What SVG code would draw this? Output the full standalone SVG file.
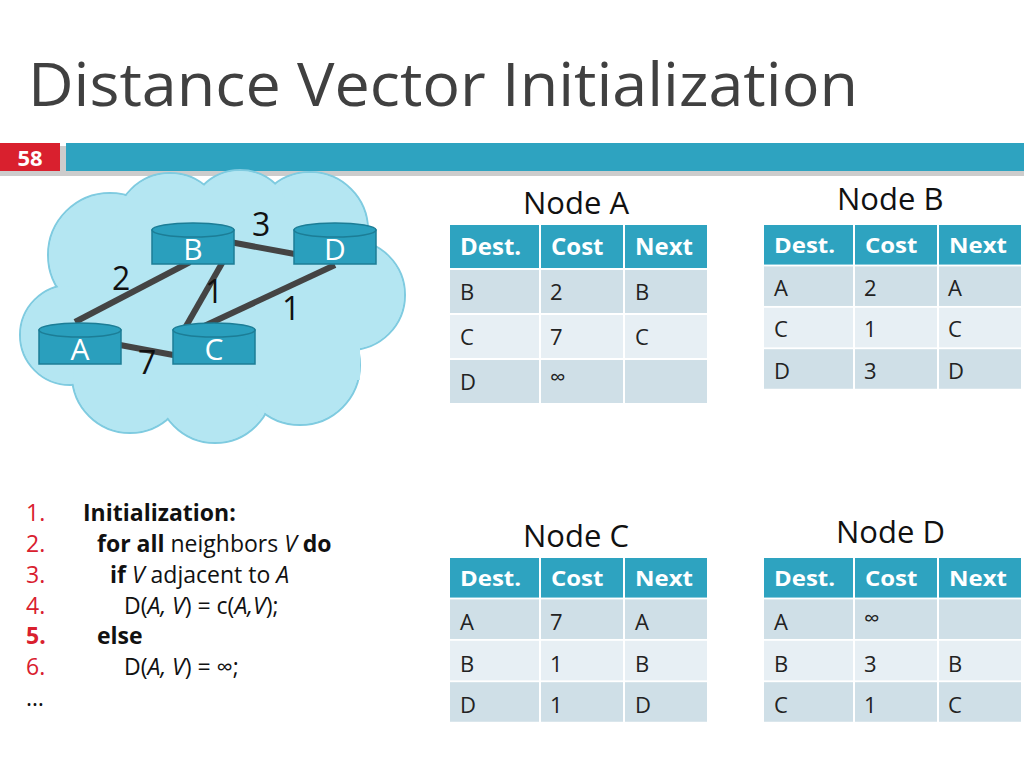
<svg xmlns="http://www.w3.org/2000/svg" width="1024" height="768" viewBox="0 0 1024 768">
<style>
text{font-family:"Open Sans","Noto Sans","DejaVu Sans",sans-serif}
.h{fill:#2ea3c0}.r1{fill:#cfdfe7}.r2{fill:#e7eff4}
.ht{fill:#fff;font-weight:bold;font-size:24px}
.ct{fill:#222;font-size:22px}
.tt{font-size:31px;fill:#111}
.rt{fill:#fff;font-size:30px;text-anchor:middle}
.el{font-size:32px;fill:#111}
.cd{font-size:23px;fill:#111}
.n{fill:#d9202e}
.cyl{fill:#2a9fbd;stroke:#1c7d96;stroke-width:1.5}
</style>
<defs>
<g id="tbl">
<rect x="0" y="0" width="89" height="43" class="h"/><rect x="91" y="0" width="82" height="43" class="h"/><rect x="175" y="0" width="82" height="43" class="h"/>
<rect x="0" y="45" width="89" height="43" class="r1"/><rect x="91" y="45" width="82" height="43" class="r1"/><rect x="175" y="45" width="82" height="43" class="r1"/>
<rect x="0" y="90" width="89" height="43" class="r2"/><rect x="91" y="90" width="82" height="43" class="r2"/><rect x="175" y="90" width="82" height="43" class="r2"/>
<rect x="0" y="135" width="89" height="43" class="r1"/><rect x="91" y="135" width="82" height="43" class="r1"/><rect x="175" y="135" width="82" height="43" class="r1"/>
<text class="ht" x="10" y="30">Dest.</text><text class="ht" x="101" y="30">Cost</text><text class="ht" x="185" y="30">Next</text>
</g>
</defs>
<rect width="1024" height="768" fill="#fff"/>
<text x="28" y="106" font-size="60" fill="#404040" textLength="830" lengthAdjust="spacingAndGlyphs">Distance Vector Initialization</text>
<rect x="0" y="146" width="1024" height="30" fill="#999" opacity="0.5"/>
<rect x="0" y="143" width="60" height="28" fill="#d9202e"/>
<rect x="66" y="143" width="958" height="28" fill="#2ea3c0"/>
<text x="30" y="166" font-size="22" font-weight="bold" fill="#fff" text-anchor="middle">58</text>

<g id="cloud" fill="#b4e6f2" stroke="#7fcbe0" stroke-width="2">
<circle cx="110" cy="255" r="62"/><circle cx="70" cy="335" r="50"/><circle cx="130" cy="375" r="58"/>
<circle cx="215" cy="385" r="58"/><circle cx="300" cy="365" r="60"/><circle cx="350" cy="295" r="55"/>
<circle cx="310" cy="230" r="58"/><circle cx="240" cy="222" r="52"/><circle cx="170" cy="228" r="55"/>
<g stroke="none"><circle cx="110" cy="255" r="61"/><circle cx="70" cy="335" r="49"/><circle cx="130" cy="375" r="57"/>
<circle cx="215" cy="385" r="57"/><circle cx="300" cy="365" r="59"/><circle cx="350" cy="295" r="54"/>
<circle cx="310" cy="230" r="57"/><circle cx="240" cy="222" r="51"/><circle cx="170" cy="228" r="54"/>
<rect x="90" y="230" width="270" height="150"/></g>
</g>
<g id="connectors" stroke="#444" stroke-width="6">
<line x1="75" y1="322" x2="190" y2="262"/>
<line x1="120" y1="345" x2="200" y2="360"/>
<line x1="225" y1="258" x2="185" y2="328"/>
<line x1="230" y1="242" x2="300" y2="255"/>
<line x1="200" y1="328" x2="335" y2="265"/>
</g>
<g id="labels" class="el">
<text x="252" y="236">3</text><text x="112" y="290">2</text><text x="205" y="303">1</text><text x="282" y="320">1</text><text x="138" y="374">7</text>
</g>
<g id="B"><rect x="152" y="230" width="82" height="34" class="cyl"/><ellipse cx="193" cy="230" rx="41" ry="7" class="cyl"/><text class="rt" x="193" y="260">B</text></g>
<g id="D"><rect x="294" y="230" width="82" height="34" class="cyl"/><ellipse cx="335" cy="230" rx="41" ry="7" class="cyl"/><text class="rt" x="335" y="260">D</text></g>
<g id="A"><rect x="39" y="330" width="82" height="34" class="cyl"/><ellipse cx="80" cy="330" rx="41" ry="7" class="cyl"/><text class="rt" x="80" y="360">A</text></g>
<g id="C"><rect x="173" y="330" width="82" height="34" class="cyl"/><ellipse cx="214" cy="330" rx="41" ry="7" class="cyl"/><text class="rt" x="214" y="360">C</text></g>

<g id="tableA"><text class="tt" x="523" y="214">Node A</text><use href="#tbl" x="450" y="225"/>
<text class="ct" x="460" y="300">B</text><text class="ct" x="550" y="300">2</text><text class="ct" x="635" y="300">B</text>
<text class="ct" x="460" y="345">C</text><text class="ct" x="550" y="345">7</text><text class="ct" x="635" y="345">C</text>
<text class="ct" x="460" y="390">D</text><text class="ct" x="550" y="385">∞</text></g>
<g id="tableB"><text class="tt" x="837" y="210">Node B</text><use href="#tbl" transform="translate(764 225) scale(1 0.92)"/>
<text class="ct" x="774" y="296">A</text><text class="ct" x="864" y="296">2</text><text class="ct" x="948" y="296">A</text>
<text class="ct" x="774" y="337">C</text><text class="ct" x="864" y="337">1</text><text class="ct" x="948" y="337">C</text>
<text class="ct" x="774" y="379">D</text><text class="ct" x="864" y="379">3</text><text class="ct" x="948" y="379">D</text></g>
<g id="tableC"><text class="tt" x="523" y="547">Node C</text><use href="#tbl" transform="translate(450 558) scale(1 0.92)"/>
<text class="ct" x="460" y="630">A</text><text class="ct" x="550" y="630">7</text><text class="ct" x="635" y="630">A</text>
<text class="ct" x="460" y="672">B</text><text class="ct" x="550" y="672">1</text><text class="ct" x="635" y="672">B</text>
<text class="ct" x="460" y="713">D</text><text class="ct" x="550" y="713">1</text><text class="ct" x="635" y="713">D</text></g>
<g id="tableD"><text class="tt" x="836" y="543">Node D</text><use href="#tbl" transform="translate(764 558) scale(1 0.92)"/>
<text class="ct" x="774" y="630">A</text><text class="ct" x="864" y="626">∞</text>
<text class="ct" x="774" y="672">B</text><text class="ct" x="864" y="672">3</text><text class="ct" x="948" y="672">B</text>
<text class="ct" x="774" y="713">C</text><text class="ct" x="864" y="713">1</text><text class="ct" x="948" y="713">C</text></g>

<g id="code" class="cd">
<text x="26" y="521"><tspan class="n">1.</tspan><tspan x="83" font-weight="bold">Initialization:</tspan></text>
<text x="26" y="552"><tspan class="n">2.</tspan><tspan x="97" font-weight="bold">for all</tspan> neighbors <tspan font-style="italic">V</tspan>  <tspan font-weight="bold">do</tspan></text>
<text x="26" y="583"><tspan class="n">3.</tspan><tspan x="110" font-weight="bold">if</tspan> <tspan font-style="italic">V</tspan> adjacent to <tspan font-style="italic">A</tspan></text>
<text x="26" y="614"><tspan class="n">4.</tspan><tspan x="124">D(</tspan><tspan font-style="italic">A, V</tspan>) = c(<tspan font-style="italic">A,V</tspan>);</text>
<text x="26" y="644"><tspan class="n" font-weight="bold">5.</tspan><tspan x="97" font-weight="bold">else</tspan></text>
<text x="26" y="675"><tspan class="n">6.</tspan><tspan x="124">D(</tspan><tspan font-style="italic">A, V</tspan>) = ∞;</text>
<text x="26" y="706">…</text>
</g>
</svg>
